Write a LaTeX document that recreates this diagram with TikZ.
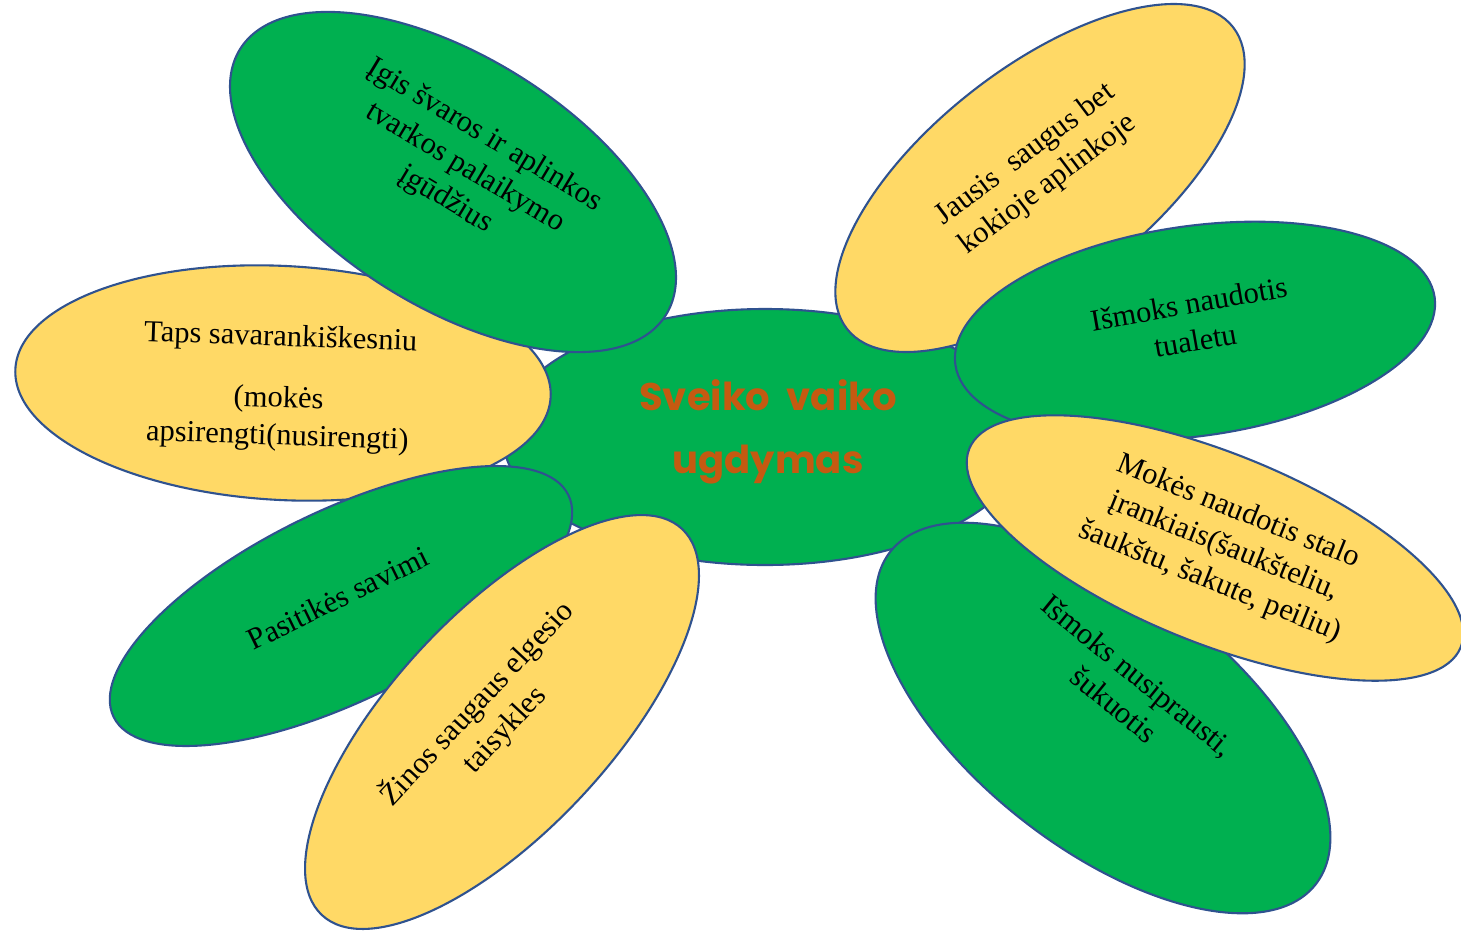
\documentclass[tikz,border=0pt]{standalone}
\usepackage{fontspec}
\setmainfont{Liberation Serif}
\newfontfamily\titlefont{Poppins}
\usetikzlibrary{shapes.geometric}
\definecolor{pgreen}{HTML}{00B050}
\definecolor{pyellow}{HTML}{FFD966}
\definecolor{pline}{HTML}{2F528F}
\definecolor{ptitle}{HTML}{C55A11}
\tikzset{
  petal/.style={ellipse, draw=pline, line width=2.1pt, inner sep=0pt},
  gpetal/.style={petal, fill=pgreen},
  ypetal/.style={petal, fill=pyellow},
  lbl/.style={align=center, inner sep=0pt, font=\fontsize{30.5}{37.5}\selectfont},
}
\begin{document}
\begin{tikzpicture}[x=1pt,y=-1pt]
\useasboundingbox (0,0) rectangle (1461,930);
% centre
\node[gpetal, minimum width=524pt, minimum height=256pt] (centre) at (765,437) {};
\node[align=center, inner sep=0pt, text=ptitle, font=\titlefont\bfseries\fontsize{38.5}{63}\selectfont] (title) at (768,432) {Sveiko\ \ vaiko\\ugdymas};
% left
\node[ypetal, minimum width=536pt, minimum height=234pt, rotate=-3] (taps) at (283,383) {};
\node[lbl, rotate=-2] (tapst) at (279,388) {Taps savarankiškesniu\\[24pt](mokės\\apsirengti(nusirengti)};
\node[gpetal, minimum width=502pt, minimum height=250pt, rotate=-32] (igis) at (453,182) {};
\node[lbl, rotate=-31] (igist) at (465,168) {Įgis švaros ir aplinkos\\tvarkos palaikymo\\įgūdžius};
\node[gpetal, minimum width=506pt, minimum height=190pt, rotate=26] (pasit) at (341,606) {};
\node[lbl, rotate=26] (pasitt) at (338,598) {Pasitikės savimi};
\node[ypetal, minimum width=528pt, minimum height=218pt, rotate=47] (zinos) at (502,722) {};
\node[lbl, rotate=47] (zinost) at (490,716) {Žinos saugaus elgesio\\taisykles};
% right
\node[ypetal, minimum width=490pt, minimum height=220pt, rotate=38] (jausis) at (1040,178) {};
\node[lbl, rotate=37] (jausist) at (1037,170) {Jausis\ \ saugus bet\\kokioje aplinkoje};
\node[gpetal, minimum width=484pt, minimum height=210pt, rotate=8] (tual) at (1195,331) {};
\node[lbl, rotate=10] (tualt) at (1192,322) {Išmoks naudotis\\tualetu};
\node[gpetal, minimum width=540pt, minimum height=260pt, rotate=-38] (prausti) at (1103,718) {};
\node[lbl, rotate=-39] (praustit) at (1126,690) {Išmoks nusiprausti,\\šukuotis};
\node[ypetal, minimum width=530pt, minimum height=190pt, rotate=-22] (mokes) at (1215,548) {};
\node[lbl, rotate=-22] (mokest) at (1224,547) {Mokės naudotis stalo\\įrankiais(šaukšteliu,\\šaukštu, šakute, peiliu)};
\end{tikzpicture}
\end{document}
